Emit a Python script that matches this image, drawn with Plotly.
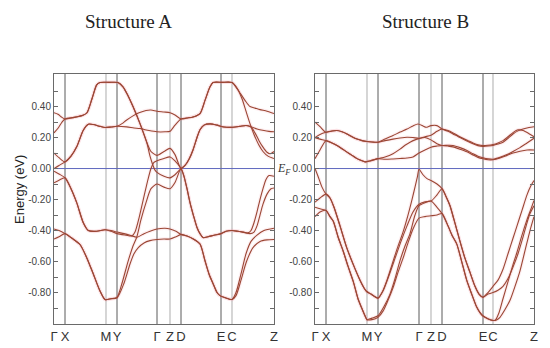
import plotly.graph_objects as go

# ---------------- high-symmetry path ----------------
k_points_A = [0, 11, 52, 63, 103, 116, 127, 167, 178, 220]
k_points_B = [0, 11, 52, 63, 104, 116, 127, 168, 178, 219]
k_labels = ["Γ", "X", "M", "Y", "Γ", "Z", "D", "E", "C", "Z"]
vline_shade = ["dark", "light", "dark", "dark", "light", "dark", "dark", "light"]  # interior points

fermi_level = 0.0
y_range = [-1.003, 0.61]
y_tick_vals = [-0.9, -0.8, -0.7, -0.6, -0.5, -0.4, -0.3, -0.2, -0.1, 0.0, 0.1, 0.2, 0.3, 0.4, 0.5]
y_tick_text = ["", "-0.80", "", "-0.60", "", "-0.40", "", "-0.20", "", "0.00", "", "0.20", "", "0.40", ""]

# ---------------- Structure A bands ----------------
a1_k = [0, 4, 8, 11, 20, 29, 33, 38, 42.7, 46, 55, 64, 69, 74, 79, 86, 92.7, 97, 103, 110, 116, 121, 127, 131, 135,
        139, 143, 146, 150, 156, 163, 170, 179, 186, 192, 197, 201, 205, 209, 213, 216, 220]
a1_e = [0.36, 0.35, 0.33, 0.32, 0.33, 0.344, 0.36, 0.45, 0.54, 0.555, 0.556, 0.555, 0.527, 0.47, 0.40, 0.29, 0.17,
        0.11, 0.085, 0.11, 0.13, 0.09, 0.0, 0.02, 0.06, 0.12, 0.20, 0.25, 0.28, 0.288, 0.28, 0.268, 0.266, 0.272,
        0.278, 0.268, 0.23, 0.18, 0.138, 0.105, 0.095, 0.11]

a2_k = [0, 4, 8, 11, 20, 29, 33, 38, 42.7, 46, 55, 64, 69, 74, 79, 86, 92.7, 96, 99, 101, 103, 110, 116, 121, 127,
        131, 135, 139, 143, 146, 150, 156, 163, 170, 179, 186, 192, 197, 203, 210, 215, 220]
a2_e = [0.23, 0.26, 0.30, 0.32, 0.33, 0.344, 0.36, 0.45, 0.54, 0.555, 0.556, 0.555, 0.527, 0.47, 0.40, 0.29, 0.17,
        0.08, 0.02, -0.01, -0.025, -0.05, -0.06, -0.04, 0.0, 0.02, 0.06, 0.12, 0.20, 0.25, 0.28, 0.288, 0.28, 0.268,
        0.266, 0.272, 0.278, 0.27, 0.255, 0.245, 0.24, 0.237]

a3_k = [0, 5, 11, 17, 22.7, 29.3, 34.3, 39.3, 46, 51, 57, 63, 68, 72, 79, 85, 92, 97, 103, 110, 116, 121, 127, 133,
        139, 146, 151, 156, 159, 168, 178, 183, 191, 196, 201, 206, 213, 220]
a3_e = [0.10, 0.07, 0.043, 0.08, 0.14, 0.247, 0.286, 0.284, 0.272, 0.265, 0.268, 0.273, 0.29, 0.31, 0.34, 0.36, 0.375,
        0.378, 0.37, 0.365, 0.36, 0.345, 0.32, 0.326, 0.333, 0.355, 0.44, 0.527, 0.555, 0.556, 0.555, 0.516, 0.44,
        0.40, 0.39, 0.38, 0.37, 0.355]

a4_k = [0, 5, 11, 17, 22.7, 29.3, 34.3, 39.3, 46, 51, 57, 63, 72.7, 80, 86, 95, 103, 111, 116, 121, 127, 133, 139,
        146, 151, 156, 159, 168, 178, 183, 188, 192, 196, 200, 205, 209, 214, 220]
a4_e = [0.0, 0.02, 0.043, 0.08, 0.14, 0.247, 0.286, 0.284, 0.272, 0.265, 0.268, 0.273, 0.269, 0.262, 0.258, 0.245,
        0.237, 0.237, 0.24, 0.28, 0.32, 0.326, 0.333, 0.355, 0.44, 0.527, 0.555, 0.556, 0.555, 0.52, 0.45, 0.37, 0.29,
        0.22, 0.15, 0.11, 0.08, 0.065]

a5_k = [0, 5, 11, 17, 22.7, 29.3, 34.3, 42.7, 51, 57, 63, 70, 76, 83, 90, 96, 103, 111, 116, 122, 127, 133, 139.3,
        146, 151, 155, 159.3, 163, 166, 172, 178, 182, 187, 192, 197, 203, 210, 220]
a5_e = [-0.017, -0.035, -0.06, -0.13, -0.22, -0.35, -0.40, -0.405, -0.395, -0.40, -0.41, -0.42, -0.43, -0.443, -0.42,
        -0.404, -0.39, -0.385, -0.39, -0.405, -0.425, -0.435, -0.454, -0.487, -0.595, -0.68, -0.746, -0.80, -0.82,
        -0.835, -0.845, -0.80, -0.68, -0.55, -0.47, -0.43, -0.40, -0.385]

a6_k = [0, 5, 11, 17, 22.7, 29.3, 34.3, 42.7, 51, 57, 63, 72, 78, 81, 85, 90, 94, 97, 100, 103, 110, 116, 121, 127,
        130, 133, 136, 139.3, 143, 146, 149, 154, 160, 167, 172, 178, 184, 189, 194, 197, 200, 203, 206, 209, 212,
        215, 220]
a6_e = [-0.092, -0.075, -0.06, -0.13, -0.22, -0.35, -0.40, -0.405, -0.395, -0.405, -0.42, -0.43, -0.435, -0.41, -0.32,
        -0.18, -0.07, 0.0, 0.04, 0.05, 0.065, 0.075, 0.05, 0.0, -0.05, -0.13, -0.22, -0.30, -0.38, -0.42, -0.445,
        -0.44, -0.43, -0.42, -0.405, -0.40, -0.405, -0.41, -0.415, -0.40, -0.35, -0.28, -0.20, -0.13, -0.07, -0.045,
        -0.05]

a7_k = [0, 5, 11, 18, 26, 32.7, 39.3, 46, 51, 57, 63, 68, 74, 79, 82.7, 87, 92, 97, 103, 110, 116, 121, 127, 130,
        133, 136, 139.3, 143, 146, 149, 154, 160, 167, 172, 178, 184, 189, 196, 200, 203, 206, 209, 213, 217, 220]
a7_e = [-0.39, -0.40, -0.42, -0.45, -0.49, -0.575, -0.68, -0.79, -0.845, -0.84, -0.83, -0.74, -0.60, -0.50, -0.443,
        -0.33, -0.22, -0.13, -0.10, -0.12, -0.13, -0.09, 0.0, -0.05, -0.13, -0.22, -0.30, -0.38, -0.42, -0.445, -0.44,
        -0.43, -0.42, -0.405, -0.40, -0.405, -0.41, -0.42, -0.41, -0.37, -0.30, -0.23, -0.165, -0.13, -0.125]

a8_k = [0, 5, 11, 18, 26, 32.7, 39.3, 46, 51, 57, 63, 70, 76, 80, 84.3, 90, 96, 103, 110, 116, 122, 127, 133, 139.3,
        146, 151, 155, 159.3, 163, 166, 172, 178, 182, 187, 192.5, 199, 206, 213, 220]
a8_e = [-0.455, -0.44, -0.42, -0.45, -0.49, -0.575, -0.68, -0.79, -0.845, -0.84, -0.835, -0.74, -0.616, -0.55, -0.51,
        -0.48, -0.465, -0.458, -0.455, -0.455, -0.44, -0.425, -0.435, -0.454, -0.487, -0.595, -0.68, -0.746, -0.80,
        -0.82, -0.835, -0.845, -0.82, -0.72, -0.60, -0.51, -0.47, -0.46, -0.458]

# ---------------- Structure B bands ----------------
b1_k = [0, 5, 11, 17, 22, 27, 32, 37, 42, 47, 52, 57, 63, 70, 78, 85, 92, 98, 103, 108, 111, 116, 122, 127, 133, 138,
        143, 148, 153, 158, 163, 168, 173, 178, 183, 188, 193, 198, 203, 208, 214, 219]
b1_e = [0.30, 0.27, 0.234, 0.242, 0.245, 0.237, 0.223, 0.205, 0.19, 0.18, 0.174, 0.171, 0.17, 0.19, 0.213, 0.235,
        0.255, 0.275, 0.287, 0.275, 0.266, 0.277, 0.277, 0.255, 0.24, 0.223, 0.207, 0.19, 0.175, 0.16, 0.148, 0.143,
        0.145, 0.149, 0.158, 0.17, 0.195, 0.223, 0.243, 0.255, 0.265, 0.27]

b2_k = [0, 5, 11, 17, 22, 27, 32, 37, 42, 47, 52, 57, 63, 70, 78, 85, 92, 98, 104, 110, 116, 122, 127, 133, 138, 143,
        148, 153, 158, 163, 168, 173, 178, 183, 188, 193, 198, 203, 208, 214, 219]
b2_e = [0.20, 0.22, 0.234, 0.242, 0.245, 0.237, 0.223, 0.205, 0.19, 0.18, 0.174, 0.171, 0.17, 0.18, 0.19, 0.197,
        0.202, 0.20, 0.195, 0.205, 0.215, 0.24, 0.255, 0.245, 0.23, 0.212, 0.195, 0.18, 0.165, 0.153, 0.148, 0.15,
        0.155, 0.165, 0.18, 0.205, 0.232, 0.25, 0.245, 0.225, 0.205]

b3_k = [0, 5, 11, 17, 22, 27, 32, 37, 42, 47, 50, 55, 63, 70, 78, 85, 90, 95, 100, 104, 110, 116, 122, 127, 133, 138,
        145, 152, 158, 163, 168, 173, 178, 185, 192, 198, 205, 212, 219]
b3_e = [0.20, 0.19, 0.18, 0.165, 0.149, 0.128, 0.106, 0.085, 0.064, 0.05, 0.043, 0.049, 0.064, 0.075, 0.096, 0.125,
        0.15, 0.17, 0.185, 0.193, 0.20, 0.185, 0.16, 0.149, 0.15, 0.149, 0.135, 0.117, 0.095, 0.08, 0.07, 0.063, 0.06,
        0.072, 0.09, 0.11, 0.135, 0.165, 0.195]

b4_k = [0, 5, 11, 17, 22, 27, 32, 37, 42, 47, 50, 55, 63, 70, 78, 85, 92, 98, 104, 110, 116, 122, 127, 133, 138, 145,
        152, 158, 163, 168, 173, 178, 185, 192, 198, 205, 212, 219]
b4_e = [0.064, 0.12, 0.18, 0.165, 0.149, 0.128, 0.106, 0.085, 0.064, 0.05, 0.043, 0.049, 0.064, 0.06, 0.062, 0.065,
        0.068, 0.075, 0.10, 0.12, 0.138, 0.145, 0.149, 0.145, 0.14, 0.125, 0.108, 0.088, 0.072, 0.063, 0.057, 0.057,
        0.068, 0.085, 0.10, 0.112, 0.12, 0.12]

b5_k = [0, 3, 7, 11, 15, 19, 25, 31.7, 38.3, 45, 50, 52, 56, 63, 67, 72, 77, 82, 88, 93, 97, 100, 102.5, 104, 108,
        112, 116, 122, 127, 131, 135, 139, 145, 150, 155, 160, 164, 168, 173, 178, 183, 188, 193, 198, 202, 207, 212,
        216, 219]
b5_e = [0.0, -0.05, -0.12, -0.165, -0.19, -0.25, -0.37, -0.51, -0.62, -0.72, -0.78, -0.795, -0.81, -0.836, -0.80,
        -0.72, -0.62, -0.52, -0.41, -0.30, -0.20, -0.12, -0.05, -0.005, -0.04, -0.065, -0.077, -0.10, -0.13, -0.18,
        -0.24, -0.33, -0.47, -0.58, -0.67, -0.76, -0.81, -0.83, -0.80, -0.76, -0.72, -0.65, -0.55, -0.45, -0.37,
        -0.27, -0.17, -0.11, -0.077]

b6_k = [0, 5, 11, 15, 19, 25, 31.7, 38.3, 45, 50, 52, 56, 63, 68, 74, 80, 86, 92, 98, 104, 110, 116, 122, 127, 131,
        135, 139, 145, 150, 155, 160, 164, 168, 173, 178, 183, 188, 193, 198, 203, 208, 212, 215, 219]
b6_e = [-0.217, -0.19, -0.165, -0.19, -0.25, -0.37, -0.51, -0.62, -0.72, -0.78, -0.795, -0.81, -0.836, -0.79, -0.69,
        -0.58, -0.47, -0.37, -0.28, -0.23, -0.215, -0.21, -0.17, -0.13, -0.18, -0.24, -0.33, -0.47, -0.58, -0.67,
        -0.76, -0.81, -0.83, -0.81, -0.80, -0.785, -0.76, -0.71, -0.636, -0.55, -0.443, -0.35, -0.29, -0.24]

b7_k = [0, 5, 11, 15, 18.3, 23, 28.3, 33, 38.3, 43, 46.7, 50, 52, 57, 63, 69, 75, 80, 85, 90, 95, 100, 104, 110, 116,
        122, 127, 133, 137, 141.7, 146.7, 151.7, 156.7, 161.7, 165, 167.7, 173.3, 178.3, 182, 185, 190, 195, 200,
        205, 210, 215, 219]
b7_e = [-0.25, -0.26, -0.27, -0.31, -0.34, -0.44, -0.535, -0.63, -0.73, -0.84, -0.90, -0.95, -0.975, -0.965, -0.95,
        -0.89, -0.81, -0.71, -0.594, -0.50, -0.42, -0.30, -0.24, -0.22, -0.21, -0.25, -0.29, -0.37, -0.43, -0.486,
        -0.60, -0.72, -0.81, -0.894, -0.93, -0.95, -0.97, -0.98, -0.975, -0.96, -0.91, -0.85, -0.76, -0.66, -0.53,
        -0.40, -0.31]

b8_k = [0, 5, 11, 15, 18.3, 23, 28.3, 33, 38.3, 43, 46.7, 50, 52, 57, 63, 68, 73, 78, 83, 88, 93, 98, 104, 110, 116,
        122, 127, 133, 137, 141.7, 146.7, 151.7, 156.7, 161.7, 165, 167.7, 173.3, 178.3, 180, 184, 188, 193, 198,
        202, 207, 212, 216, 219]
b8_e = [-0.31, -0.28, -0.27, -0.31, -0.34, -0.44, -0.535, -0.63, -0.73, -0.84, -0.90, -0.95, -0.975, -0.975, -0.96,
        -0.92, -0.85, -0.77, -0.67, -0.58, -0.48, -0.39, -0.32, -0.31, -0.305, -0.30, -0.29, -0.37, -0.43, -0.486,
        -0.60, -0.72, -0.81, -0.894, -0.93, -0.95, -0.97, -0.98, -0.98, -0.93, -0.84, -0.73, -0.62, -0.54, -0.43,
        -0.33, -0.26, -0.206]

bands_A = [(a1_k, a1_e), (a2_k, a2_e), (a3_k, a3_e), (a4_k, a4_e),
           (a5_k, a5_e), (a6_k, a6_e), (a7_k, a7_e), (a8_k, a8_e)]
bands_B = [(b1_k, b1_e), (b2_k, b2_e), (b3_k, b3_e), (b4_k, b4_e),
           (b5_k, b5_e), (b6_k, b6_e), (b7_k, b7_e), (b8_k, b8_e)]

# ---------------- styles ----------------
BAND_COLOR = "rgb(155,70,52)"
HALO_COLOR = "rgba(240,120,140,0.12)"
FERMI_COLOR = "rgb(95,105,190)"
DARK_V = "#5a5a5a"
LIGHT_V = "#c4c4c4"
FRAME = "#6a6a6a"

fig = go.Figure()

for kp, xa, ya in [(k_points_A, "x", "y"), (k_points_B, "x2", "y2")]:
    for kv, shade in zip(kp[1:-1], vline_shade):
        fig.add_trace(go.Scatter(
            x=[kv, kv], y=y_range, mode="lines", xaxis=xa, yaxis=ya,
            line=dict(color=DARK_V if shade == "dark" else LIGHT_V, width=1 if shade == "dark" else 1.4),
            hoverinfo="skip", showlegend=False))
    fig.add_trace(go.Scatter(
        x=[kp[0], kp[-1]], y=[fermi_level, fermi_level], mode="lines", xaxis=xa, yaxis=ya,
        line=dict(color=FERMI_COLOR, width=1), hoverinfo="skip", showlegend=False))

for bands, xa, ya in [(bands_A, "x", "y"), (bands_B, "x2", "y2")]:
    for kk, ee in bands:
        fig.add_trace(go.Scatter(x=kk, y=ee, mode="lines", xaxis=xa, yaxis=ya,
                                 line=dict(color=HALO_COLOR, width=3.5, shape="spline", smoothing=0.7),
                                 hoverinfo="skip", showlegend=False))
    for kk, ee in bands:
        fig.add_trace(go.Scatter(x=kk, y=ee, mode="lines", xaxis=xa, yaxis=ya,
                                 line=dict(color=BAND_COLOR, width=1.1, shape="spline", smoothing=0.7),
                                 hoverinfo="skip", showlegend=False))

W, H = 550, 348
y_dom = [24 / H, 274 / H]
xax_common = dict(showline=True, mirror=True, linecolor=FRAME, linewidth=1, ticks="",
                  showgrid=False, zeroline=False, ticktext=k_labels, tickangle=0, automargin=False,
                  tickfont=dict(family="Liberation Sans, Arial, sans-serif", size=13, color="#333"))
yax_common = dict(showline=True, mirror="ticks", linecolor=FRAME, linewidth=1, ticks="inside",
                  ticklen=4, tickcolor=FRAME, showgrid=False, zeroline=False, range=y_range,
                  tickvals=y_tick_vals, ticktext=y_tick_text, domain=y_dom, automargin=False,
                  tickfont=dict(family="Liberation Sans, Arial, sans-serif", size=10, color="#444"))

fig.update_layout(
    width=W, height=H, margin=dict(l=0, r=0, t=0, b=0, autoexpand=False),
    paper_bgcolor="white", plot_bgcolor="white", showlegend=False,
    xaxis=dict(domain=[54 / W, 274 / W], range=[k_points_A[0], k_points_A[-1]], tickvals=k_points_A,
               anchor="y", **xax_common),
    yaxis=dict(anchor="x", **yax_common),
    xaxis2=dict(domain=[315 / W, 534 / W], range=[k_points_B[0], k_points_B[-1]], tickvals=k_points_B,
                anchor="y2", **xax_common),
    yaxis2=dict(anchor="x2", **yax_common),
)

serif = "Liberation Serif, Times New Roman, serif"
fig.add_annotation(text="Structure A", x=128 / W, y=1 - 22 / H, xref="paper", yref="paper",
                   xanchor="center", yanchor="middle",
                   showarrow=False, font=dict(family=serif, size=19, color="#222"))
fig.add_annotation(text="Structure B", x=425 / W, y=1 - 22 / H, xref="paper", yref="paper",
                   xanchor="center", yanchor="middle",
                   showarrow=False, font=dict(family=serif, size=19, color="#222"))
fig.add_annotation(text="Energy (eV)", x=19 / W, y=1 - 190 / H, xref="paper", yref="paper",
                   xanchor="center", yanchor="middle", showarrow=False, textangle=-90,
                   font=dict(family="Liberation Sans, Arial, sans-serif", size=13, color="#222"))
fig.add_annotation(text="<i>E</i><sub><i>F</i></sub>", x=275 / W, y=1 - 169 / H, xref="paper", yref="paper",
                   xanchor="left", yanchor="middle", showarrow=False,
                   font=dict(family=serif, size=12, color="#333"))

fig.write_html("out.html", config={"displayModeBar": False},
               post_script="document.body.style.margin='0';document.body.style.padding='0';")
